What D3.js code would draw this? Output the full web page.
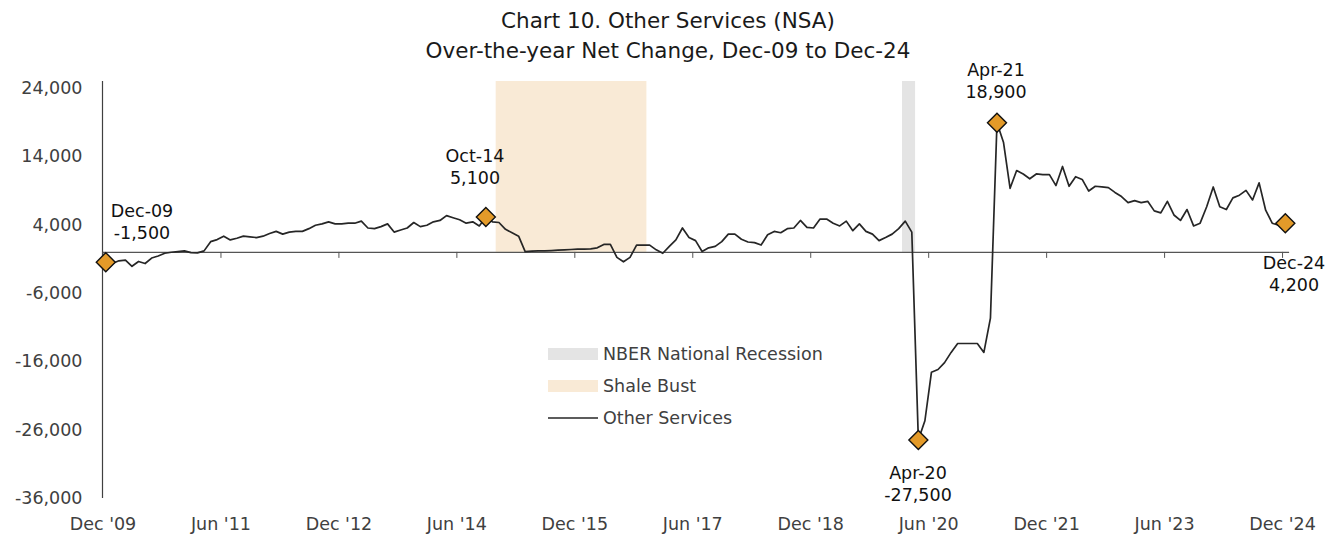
<!DOCTYPE html>
<html>
<head>
<meta charset="utf-8">
<script src="https://cdn.jsdelivr.net/npm/d3@7"></script>
<style>
  body { margin: 0; background: #fff; }
  text { font-family: "DejaVu Sans", sans-serif; }
</style>
</head>
<body>
<div id="chart"></div>
<script>
// over-the-year net change, monthly, Dec 2009 .. Dec 2024
const startYear = 2009, startMonth = 12
const otherServices = [
  -1500, -1700, -1300, -1200, -2100, -1400, -1700, -900, -600, -200,
  -50, 50, 150, -100, -150, 150, 1500, 1800, 2300, 1750,
  2000, 2300, 2200, 2100, 2300, 2700, 3000, 2600, 2900, 3000,
  3000, 3400, 3900, 4100, 4400, 4100, 4100, 4200, 4200, 4500,
  3500, 3400, 3700, 4100, 2900, 3200, 3500, 4300, 3700, 3900,
  4400, 4600, 5300, 5000, 4700, 4200, 4400, 3800, 5100, 4400,
  4300, 3300, 2800, 2300, 50, 100, 150, 150, 200, 250,
  300, 350, 400, 400, 450, 600, 1100, 1100, -800, -1450,
  -800, 1000, 1000, 1000, 300, -200, 800, 1750, 3500, 2100,
  1650, 50, 600, 800, 1500, 2600, 2600, 1850, 1450, 1350,
  1000, 2500, 3000, 2800, 3400, 3500, 4600, 3600, 3500, 4800,
  4800, 4200, 3800, 4500, 3100, 4100, 3000, 2600, 1650, 2100,
  2600, 3400, 4500, 2900, -27500, -24700, -17600, -17200, -16200, -14700,
  -13400, -13400, -13400, -13400, -14700, -9700, 18900, 16000, 9300, 11900,
  11400, 10700, 11400, 11300, 11300, 9700, 12500, 9600, 11000, 10600,
  8900, 9600, 9500, 9400, 8700, 8100, 7200, 7500, 7200, 7400,
  6000, 5700, 7400, 5400, 4600, 6200, 3800, 4200, 6600, 9500,
  6600, 6200, 7900, 8300, 9000, 7600, 10100, 6100, 4200, 3900,
  4200
]

const tickLabels = ["Dec '09", "Jun '11", "Dec '12", "Jun '14", "Dec '15", "Jun '17",
                    "Dec '18", "Jun '20", "Dec '21", "Jun '23", "Dec '24"]
const tickStep = 18
const yTicks = [24000, 14000, 4000, -6000, -16000, -26000, -36000]

// shaded periods: first month .. month after last
const bandNames = ['NBER National Recession', 'Shale Bust']
const bandFrom = ['2020-02', '2014-12']
const bandTo = ['2020-04', '2016-11']
const bandColors = ['#e4e4e4', '#f9ead6']

// labelled points
const annoMonths = ['2009-12', '2014-10', '2020-04', '2021-04', '2024-12']
const annoLabels = ['Dec-09', 'Oct-14', 'Apr-20', 'Apr-21', 'Dec-24']
const annoValues = ['-1,500', '5,100', '-27,500', '18,900', '4,200']
const annoPos = [[142, 211], [475, 156], [918, 473], [996, 70], [1294, 263]]

function monthIndex(s){
  let p = s.split('-')
  return (+p[0] - startYear) * 12 + (+p[1] - startMonth)
}

const width = 1335, height = 537
const fmt = d3.formatLocale({ decimal: '.', thousands: ',', grouping: [3], currency: ['$', ''], minus: '-' }).format(',')
const fontSize = '17.5px'

const svg = d3.select('#chart').append('svg')
  .attr('width', width)
  .attr('height', height)

const x = d3.scaleLinear().domain([0, otherServices.length]).range([102.5, 1288.6])
const y = d3.scaleLinear().domain([-36000, 25000]).range([498, 81])

// bands
svg.selectAll('rect.band')
  .data(bandNames)
  .enter().append('rect')
  .attr('class', 'band')
  .attr('x', (d, i) => x(monthIndex(bandFrom[i])))
  .attr('width', (d, i) => x(monthIndex(bandTo[i])) - x(monthIndex(bandFrom[i])))
  .attr('y', y(25000))
  .attr('height', y(0) - y(25000))
  .attr('fill', (d, i) => bandColors[i])

// y axis
let yAxis = svg.append('g')
  .attr('transform', 'translate(' + x(0) + ',0)')
  .call(d3.axisLeft(y).tickValues(yTicks).tickSize(0).tickFormat(fmt))
yAxis.select('.domain').remove()
yAxis.selectAll('text')
  .attr('x', -20)
  .style('font-size', fontSize)
  .style('fill', '#404040')
svg.append('line')
  .attr('x1', x(0)).attr('x2', x(0))
  .attr('y1', y(25000)).attr('y2', y(-36000))
  .attr('stroke', '#404040').attr('stroke-width', 1.2)

// x axis on zero line
let tickIdx = tickLabels.map((d, i) => i * tickStep)
let xAxis = svg.append('g')
  .attr('transform', 'translate(0,' + y(0) + ')')
  .call(d3.axisBottom(x).tickValues(tickIdx).tickSize(6).tickSizeOuter(0)
    .tickFormat((d, i) => tickLabels[i]))
xAxis.select('.domain').attr('stroke', '#555').attr('stroke-width', 1.2)
xAxis.selectAll('.tick line').attr('stroke', '#555')
xAxis.selectAll('text')
  .attr('y', 524 - y(0))
  .attr('dy', '0.35em')
  .style('font-size', fontSize)
  .style('fill', '#404040')

// series line
let line = d3.line()
  .x((d, i) => x(i + 0.5))
  .y(d => y(d))
svg.append('path')
  .datum(otherServices)
  .attr('d', line)
  .attr('fill', 'none')
  .attr('stroke', '#262626')
  .attr('stroke-width', 1.7)
  .attr('stroke-linejoin', 'round')

// diamonds
let r = 9.5
svg.selectAll('path.marker')
  .data(annoMonths)
  .enter().append('path')
  .attr('class', 'marker')
  .attr('transform', d => {
    let i = monthIndex(d)
    return 'translate(' + x(i + 0.5) + ',' + y(otherServices[i]) + ')'
  })
  .attr('d', 'M0,' + (-r) + 'L' + r + ',0L0,' + r + 'L' + (-r) + ',0Z')
  .attr('fill', '#e39a29')
  .attr('stroke', '#111')
  .attr('stroke-width', 1.4)

// annotations
annoLabels.forEach(function(lab, i){
  let t = svg.append('text')
    .attr('text-anchor', 'middle')
    .style('font-size', fontSize)
    .style('fill', '#111')
  t.append('tspan').attr('x', annoPos[i][0]).attr('y', annoPos[i][1]).attr('dy', '0.35em').text(lab)
  t.append('tspan').attr('x', annoPos[i][0]).attr('y', annoPos[i][1] + 22).attr('dy', '0.35em').text(annoValues[i])
})

// legend
let legend = svg.append('g').attr('transform', 'translate(548,354)')
bandNames.forEach(function(name, i){
  legend.append('rect')
    .attr('x', 0).attr('y', i * 32 - 6)
    .attr('width', 50).attr('height', 12)
    .attr('fill', bandColors[i])
  legend.append('text')
    .attr('x', 55).attr('y', i * 32).attr('dy', '0.35em')
    .style('font-size', fontSize).style('fill', '#404040')
    .text(name)
})
legend.append('line')
  .attr('x1', 0).attr('x2', 50).attr('y1', 64).attr('y2', 64)
  .attr('stroke', '#262626').attr('stroke-width', 1.5)
legend.append('text')
  .attr('x', 55).attr('y', 64).attr('dy', '0.35em')
  .style('font-size', fontSize).style('fill', '#404040')
  .text('Other Services')

// title
let title = svg.append('text')
  .attr('text-anchor', 'middle')
  .style('font-size', '21.5px')
  .style('fill', '#1a1a1a')
title.append('tspan').attr('x', 668).attr('y', 20).attr('dy', '0.35em').text('Chart 10. Other Services (NSA)')
title.append('tspan').attr('x', 668).attr('y', 50).attr('dy', '0.35em').text('Over-the-year Net Change, Dec-09 to Dec-24')
</script>
</body>
</html>
